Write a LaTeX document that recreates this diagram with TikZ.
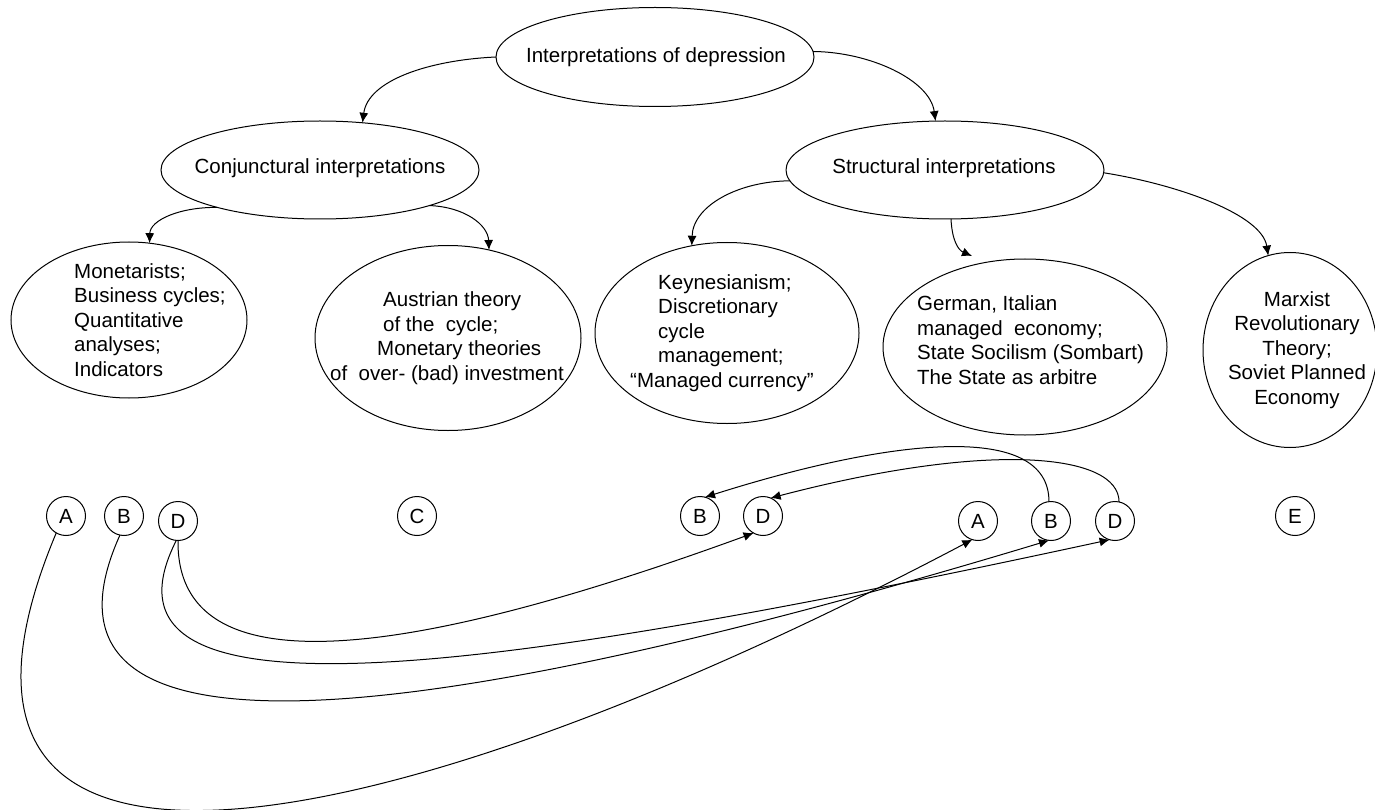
\documentclass[tikz,border=0pt]{standalone}
\usepackage{fontspec}
\setmainfont{Liberation Sans}
\usetikzlibrary{shapes.geometric,arrows.meta}
\begin{document}
\begin{tikzpicture}[x=1pt,y=-1pt,
  every node/.style={font=\fontsize{20.5}{24.5}\selectfont},
  ell/.style={draw, ellipse, line width=1pt, inner sep=0pt, outer sep=0pt},
  circ/.style={draw, circle, line width=1pt, minimum size=39pt, inner sep=0pt, outer sep=0pt},
  txt/.style={inner sep=0pt},
  arr/.style={line width=1pt, -{Latex[length=10pt,width=9pt]}}
]
\useasboundingbox (0,0) rectangle (1375,810);

% ellipses
\node[ell, minimum width=318pt, minimum height=99pt] (top) at (655,57) {};
\node[txt] (toptext) at (656,57) {Interpretations of depression};
\node[ell, minimum width=318pt, minimum height=98pt] (conj) at (320,170) {};
\node[txt] (conjtext) at (320,168) {Conjunctural interpretations};
\node[ell, minimum width=318pt, minimum height=98pt] (str) at (945,170) {};
\node[txt] (strtext) at (944,168) {Structural interpretations};

\node[ell, minimum width=236pt, minimum height=156pt] (mon) at (129,320) {};
\node[txt, anchor=west, align=left] (montext) at (74,320)
  {Monetarists;\\Business cycles;\\Quantitative\\analyses;\\Indicators};
\node[ell, minimum width=266pt, minimum height=185pt] (aus) at (448,338) {};
\node[txt, anchor=west, align=left] (austext) at (330,338)
  {\hspace*{53pt}Austrian theory\\\hspace*{53pt}of the~~cycle;\\\hspace*{47pt}Monetary theories\\of~~over- (bad) investment};
\node[ell, minimum width=264pt, minimum height=181pt] (key) at (727,333) {};
\node[txt, anchor=west, align=left] (keytext) at (630,333)
  {\hspace*{28pt}Keynesianism;\\\hspace*{28pt}Discretionary\\\hspace*{28pt}cycle\\\hspace*{28pt}management;\\“Managed currency”};
\node[ell, minimum width=284pt, minimum height=176pt] (ger) at (1025,347) {};
\node[txt, anchor=west, align=left] (gertext) at (917,340)
  {German, Italian\\managed~~economy;\\State Socilism (Sombart)\\The State as arbitre};
\node[ell, minimum width=174pt, minimum height=195pt] (mar) at (1290,350) {};
\node[txt, align=center] (martext) at (1297,350)
  {Marxist\\Revolutionary\\Theory;\\Soviet Planned\\Economy};

\coordinate (gtip) at (972,256);

% circles
\node[circ] (cA1) at (66,516) {A};
\node[circ] (cB1) at (124,516) {B};
\node[circ] (cD1) at (178,521) {D};
\node[circ] (cC)  at (417,516) {C};
\node[circ] (cB2) at (700,516) {B};
\node[circ] (cD2) at (763,516) {D};
\node[circ] (cA2) at (978,521) {A};
\node[circ] (cB3) at (1051,521) {B};
\node[circ] (cD3) at (1115,521) {D};
\node[circ] (cE)  at (1295,516) {E};

% tree arrows
\draw[arr] (top.west) .. controls (430,60) and (368,80) .. (conj.48);
\draw[arr] (top.2) .. controls (870,52) and (930,80) .. (str.101);
\draw[arr] (conj.200) .. controls (180,207) and (150,220) .. (mon.75);
\draw[arr] (conj.-18) .. controls (465,207) and (488,225) .. (aus.65);
\draw[arr] (str.184) .. controls (740,181) and (693,205) .. (key.112);
\draw[arr] (str.-83) .. controls (952,240) and (958,250) .. (gtip);
\draw[arr] (str.-1) .. controls (1180,185) and (1262,215) .. (mar.103);

% letter links
\draw[arr] (cA1.-120) .. controls (-118,948) and (380,852) .. (cA2.-107);
\draw[arr] (cB1.-102) .. controls (4,792) and (471,715) .. (cB3.-96);
\draw[arr] (cD1.-90) .. controls (176,710) and (471,636) .. (cD2.-119);
\draw[arr] (cD1.-95) .. controls (80,730) and (475,677) .. (cD3.-106);
\draw[arr] (cB3.96) .. controls (1049,422) and (895,437) .. (cB2.75);
\draw[arr] (cD3.78) .. controls (1119,454) and (992,440) .. (cD2.67);
\end{tikzpicture}
\end{document}
